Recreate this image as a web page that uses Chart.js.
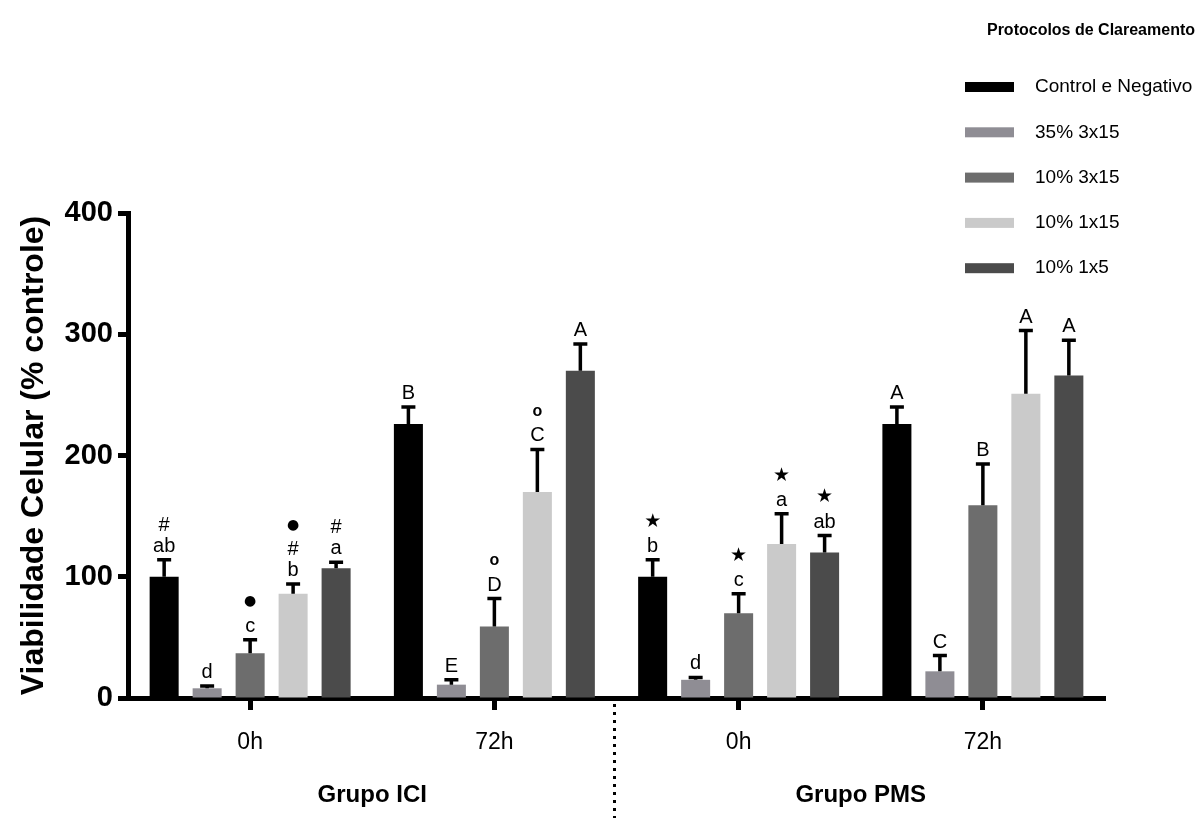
<!DOCTYPE html>
<html>
<head>
<meta charset="utf-8">
<script src="https://cdn.jsdelivr.net/npm/chart.js@4"></script>
<style>
  body { margin: 0; background: #fff; }
  canvas { display: block; }
</style>
</head>
<body>
<canvas id="grafico" width="1199" height="818"></canvas>
<script>
// Datos
const tiempos = ['0h', '72h', '0h', '72h'];
const grupos = ['Grupo ICI', 'Grupo PMS'];
const protocolos = ['Control e Negativo', '35% 3x15', '10% 3x15', '10% 1x15', '10% 1x5'];
const colores = ['#000000', '#8f8d94', '#6d6d6d', '#cacaca', '#4b4b4b'];
const ticksY = [0, 100, 200, 300, 400];

const controle = [100, 226, 100, 226];
const p35_3x15 = [8, 11, 15, 22];
const p10_3x15 = [37, 59, 70, 159];
const p10_1x15 = [86, 170, 127, 251];
const p10_1x5 = [107, 270, 120, 266];

const errControle = [14, 14, 14, 14];
const err35_3x15 = [2, 4, 2, 13];
const err10_3x15 = [11, 23, 16, 34];
const err10_1x15 = [8, 35, 25, 52];
const err10_1x5 = [5, 22, 14, 29];

// letras de significancia (de arriba hacia abajo)
const letrasControle = [['#', 'ab'], ['B'], ['★', 'b'], ['A']];
const letras35_3x15 = [['d'], ['E'], ['d'], ['C']];
const letras10_3x15 = [['●', 'c'], ['o', 'D'], ['★', 'c'], ['B']];
const letras10_1x15 = [['●', '#', 'b'], ['o', 'C'], ['★', 'a'], ['A']];
const letras10_1x5 = [['#', 'a'], ['A'], ['★', 'ab'], ['A']];

const valores = [controle, p35_3x15, p10_3x15, p10_1x15, p10_1x5];
const errores = [errControle, err35_3x15, err10_3x15, err10_1x15, err10_1x5];
const letras = [letrasControle, letras35_3x15, letras10_3x15, letras10_1x15, letras10_1x5];

const fuente = "'Liberation Sans', Arial, Helvetica, sans-serif";

// Barras de error + letras
const errorBars = {
  id: 'errorBars',
  afterDatasetsDraw(chart) {
    const ctx = chart.ctx;
    const y = chart.scales.y;
    ctx.save();
    valores.forEach((serie, i) => {
      const meta = chart.getDatasetMeta(i);
      meta.data.forEach((bar, j) => {
        const top = y.getPixelForValue(serie[j] + errores[i][j]);
        ctx.strokeStyle = '#000';
        ctx.lineWidth = 3.5;
        ctx.beginPath();
        ctx.moveTo(bar.x, bar.y);
        ctx.lineTo(bar.x, top);
        ctx.moveTo(bar.x - 7, top);
        ctx.lineTo(bar.x + 7, top);
        ctx.stroke();

        const lineas = letras[i][j].slice().reverse();
        ctx.fillStyle = '#000';
        ctx.textAlign = 'center';
        lineas.forEach((txt, k) => {
          const base = top - 8 - k * 21;
          if (txt === '●' || txt === '★') {
            ctx.font = (txt === '●' ? '14px' : '19px') + " 'DejaVu Sans', sans-serif";
            ctx.textBaseline = 'middle';
            ctx.fillText(txt, bar.x, base - 9);
          } else if (txt === 'o') {
            ctx.font = 'bold 16px ' + fuente;
            ctx.textBaseline = 'middle';
            ctx.fillText(txt, bar.x, base - 9);
          } else {
            ctx.font = '20px ' + fuente;
            ctx.textBaseline = 'alphabetic';
            ctx.fillText(txt, bar.x, base);
          }
        });
      });
    });
    ctx.restore();
  }
};

// Leyenda, línea punteada y nombres de grupo
const extras = {
  id: 'extras',
  afterDraw(chart) {
    const ctx = chart.ctx;
    const x = chart.scales.x;
    ctx.save();
    ctx.fillStyle = '#000';
    ctx.textBaseline = 'middle';

    ctx.font = 'bold 16px ' + fuente;
    ctx.textAlign = 'right';
    ctx.fillText('Protocolos de Clareamento', 1195, 31);

    ctx.font = '19px ' + fuente;
    ctx.textAlign = 'left';
    protocolos.forEach((p, i) => {
      const yy = 87 + i * 45.3;
      ctx.fillStyle = colores[i];
      ctx.fillRect(965, yy - 5, 49, 10);
      ctx.fillStyle = '#000';
      ctx.fillText(p, 1035, yy);
    });

    // separación entre grupos
    const xs = (x.getPixelForValue(1) + x.getPixelForValue(2)) / 2 - 2;
    ctx.strokeStyle = '#000';
    ctx.lineWidth = 3;
    ctx.setLineDash([3, 5]);
    ctx.beginPath();
    ctx.moveTo(xs, 704);
    ctx.lineTo(xs, 818);
    ctx.stroke();
    ctx.setLineDash([]);

    ctx.font = 'bold 24px ' + fuente;
    ctx.textAlign = 'center';
    grupos.forEach((g, i) => {
      const cx = (x.getPixelForValue(i * 2) + x.getPixelForValue(i * 2 + 1)) / 2;
      ctx.fillText(g, cx, 795);
    });
    ctx.restore();
  }
};

new Chart(document.getElementById('grafico'), {
  type: 'bar',
  data: {
    labels: tiempos,
    datasets: valores.map((serie, i) => ({
      label: protocolos[i],
      data: serie,
      backgroundColor: colores[i],
      categoryPercentage: 0.88,
      barPercentage: 0.675
    }))
  },
  options: {
    responsive: false,
    animation: false,
    devicePixelRatio: 1,
    layout: {
      padding: { top: 213, right: 94, left: 0, bottom: 0 }
    },
    plugins: {
      legend: { display: false },
      tooltip: { enabled: false }
    },
    scales: {
      x: {
        afterFit: (s) => { s.height = 120; },
        grid: {
          drawOnChartArea: false,
          offset: false,
          tickLength: 12,
          tickWidth: 5,
          tickColor: '#000'
        },
        border: { width: 5, color: '#000' },
        ticks: {
          color: '#000',
          padding: 19,
          font: { family: fuente, size: 23 }
        }
      },
      y: {
        min: 0,
        max: 400,
        afterFit: (s) => { s.width = 128; },
        afterBuildTicks: (s) => { s.ticks = ticksY.map(v => ({ value: v })); },
        grid: {
          drawOnChartArea: false,
          tickLength: 10,
          tickWidth: 5,
          tickColor: '#000'
        },
        border: { width: 5, color: '#000' },
        ticks: {
          color: '#000',
          padding: 5,
          font: { family: fuente, size: 29, weight: 'bold' }
        },
        title: {
          display: true,
          text: 'Viabilidade Celular (% controle)',
          color: '#000',
          padding: { top: 15, bottom: 0 },
          font: { family: fuente, size: 32, weight: 'bold' }
        }
      }
    }
  },
  plugins: [errorBars, extras]
});
</script>
</body>
</html>
